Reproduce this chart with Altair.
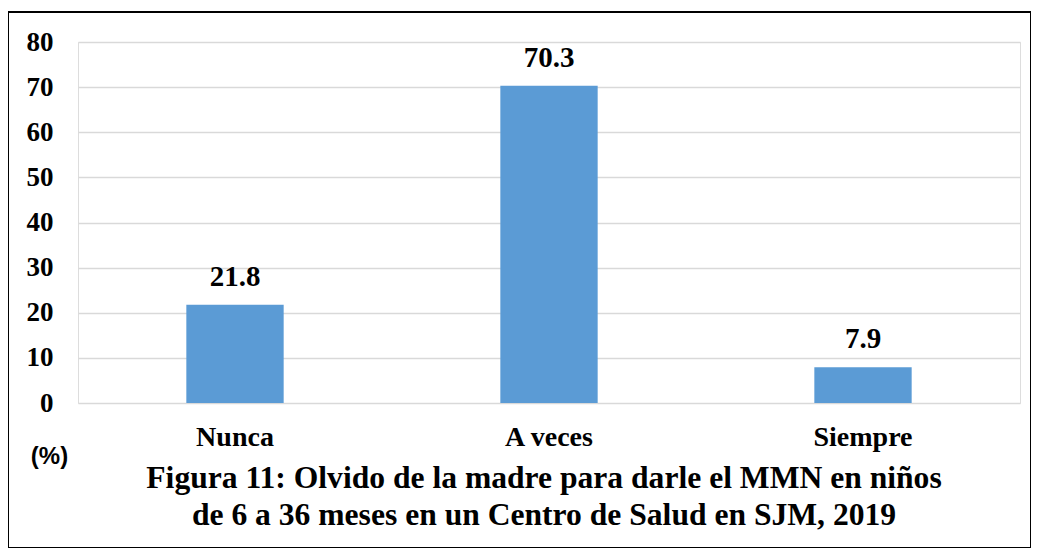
import altair as alt
import pandas as pd

categories = ["Nunca", "A veces", "Siempre"]
values = [21.8, 70.3, 7.9]
y_ticks = [0, 10, 20, 30, 40, 50, 60, 70, 80]
title_lines = [
    "Figura 11: Olvido de la madre para darle el MMN en niños",
    "de 6 a 36 meses en un Centro de Salud en SJM, 2019",
]

df = pd.DataFrame({"cat": categories, "val": values})

SERIF = "Liberation Serif"

x_enc = alt.X(
    "cat:N",
    sort=categories,
    scale=alt.Scale(paddingInner=0.69, paddingOuter=0.345),
    axis=alt.Axis(
        title=None,
        labelAngle=0,
        labelFont=SERIF,
        labelFontWeight="bold",
        labelFontSize=28,
        labelColor="black",
        labelBaseline="alphabetic",
        labelPadding=42,
        ticks=False,
        tickSize=0,
        domain=False,
        grid=False,
    ),
)

y_enc = alt.Y(
    "val:Q",
    scale=alt.Scale(domain=[0, 80], nice=False),
    axis=alt.Axis(
        values=y_ticks,
        title="(%)",
        titleAngle=0,
        titleFont="Liberation Sans",
        titleFontWeight="bold",
        titleFontSize=24,
        titleColor="black",
        titleAlign="center",
        titleBaseline="alphabetic",
        titleX=-29,
        titleY=421,
        labelFont=SERIF,
        labelFontWeight="bold",
        labelFontSize=27,
        labelColor="black",
        labelPadding=25,
        ticks=False,
        tickSize=0,
        domain=False,
        grid=True,
        gridColor="#d9d9d9",
        gridWidth=1.5,
    ),
)

bars = alt.Chart(df).mark_bar(color="#5B9BD5").encode(x=x_enc, y=y_enc)

labels = alt.Chart(df).mark_text(
    font=SERIF,
    fontWeight="bold",
    fontSize=29,
    color="black",
    baseline="alphabetic",
    dy=-19,
).encode(x=alt.X("cat:N", sort=categories), y=alt.Y("val:Q"), text=alt.Text("val:Q", format=".1f"))

frame = alt.Chart(df).mark_rect(filled=False, stroke="black", strokeWidth=2).encode(
    x=alt.value(-70), x2=alt.value(953), y=alt.value(-30), y2=alt.value(506)
)

chart = (
    alt.layer(bars, labels, frame)
    .properties(
        width=942,
        height=361,
        autosize=alt.AutoSizeParams(type="none"),
        padding={"left": 70, "top": 34, "right": 11, "bottom": 145},
        title=alt.TitleParams(
            text=title_lines,
            orient="bottom",
            anchor="middle",
            frame="group",
            font=SERIF,
            fontWeight="bold",
            fontSize=31.6,
            color="black",
            lineHeight=36.5,
            offset=-86,
            dx=-5,
        ),
    )
    .configure_view(stroke=None)
    .configure(background="white")
)

chart.save("out.html", embed_options={"renderer": "svg", "actions": False})
